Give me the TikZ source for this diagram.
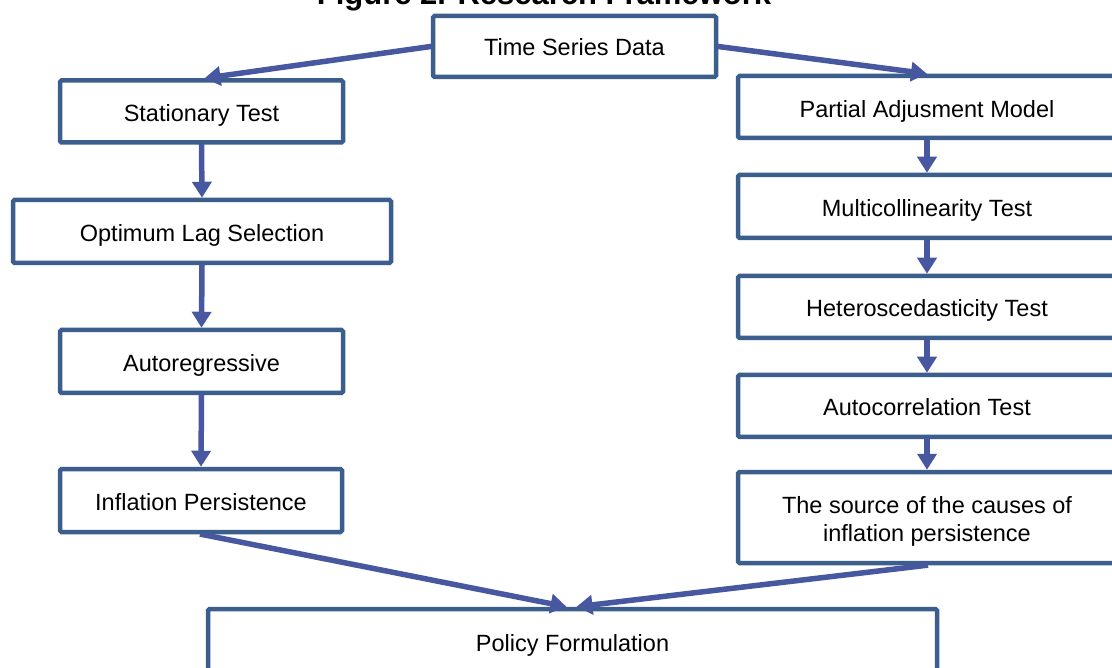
\documentclass[tikz,border=0pt]{standalone}
\usepackage{fontspec}
\setmainfont{Liberation Sans}
\usetikzlibrary{arrows.meta,calc}
\definecolor{boxblue}{HTML}{3C5E8D}
\definecolor{arrblue}{HTML}{4858A0}
\begin{document}
\begin{tikzpicture}[x=1pt,y=-1pt,
  box/.style={draw=boxblue, line width=4.5pt, rounded corners=1.5pt, fill=white,
    inner sep=0pt, font=\fontsize{23.5}{28.5}\selectfont, align=center,
    text height=20pt, text depth=0pt},
  conn/.style={draw=arrblue, line width=5.5pt, -{Triangle[length=16pt,width=19pt]}, shorten <=-1pt}
]
\clip (0,0) rectangle (1112,668);
\useasboundingbox (0,0) rectangle (1112,668);
\fill[white] (0,0) rectangle (1112,668);

\node[anchor=base, font=\bfseries\fontsize{31}{35}\selectfont] (title) at (544,4.5) {Figure 2. Research Framework};

\node[box, minimum width=283pt, minimum height=61pt, text height=18pt] (tsd) at (574.5,46.5) {Time Series Data};

\node[box, minimum width=283pt, minimum height=62pt] (st) at (201.5,111.5) {Stationary Test};
\node[box, minimum width=378pt, minimum height=63pt] (ols) at (202,231.5) {Optimum Lag Selection};
\node[box, minimum width=283pt, minimum height=63pt] (ar) at (201.5,361.5) {Autoregressive};
\node[box, minimum width=282pt, minimum height=63pt] (ip) at (201,500.5) {Inflation Persistence};

\node[box, minimum width=378pt, minimum height=62pt, text height=21.5pt] (pam) at (927,107) {Partial Adjusment Model};
\node[box, minimum width=378pt, minimum height=63pt] (mt) at (927,206.5) {Multicollinearity Test};
\node[box, minimum width=378pt, minimum height=62pt] (ht) at (927,307) {Heteroscedasticity Test};
\node[box, minimum width=378pt, minimum height=62pt] (act) at (927,406) {Autocorrelation Test};
\node[box, minimum width=378pt, minimum height=91pt, text height=48.5pt] (src) at (927,517.5) {The source of the causes of\\inflation persistence};

\node[box, minimum width=729pt, minimum height=69pt, text height=16.8pt] (pf) at (572.5,643.5) {Policy Formulation};

\draw[conn] (tsd.west) -- ($(st.north)+(3,0)$);
\draw[conn] (tsd.east) -- (pam.north);
\draw[conn] (st.south) -- (ols.north);
\draw[conn] (ols.south) -- (ar.north);
\draw[conn] (ar.south) -- (ip.north);
\draw[conn] (ip.south) -- ($(pf.north)+(-6,0)$);
\draw[conn] (pam.south) -- (mt.north);
\draw[conn] (mt.south) -- (ht.north);
\draw[conn] (ht.south) -- (act.north);
\draw[conn] (act.south) -- (src.north);
\draw[conn] (src.south) -- ($(pf.north)+(4,0)$);
\end{tikzpicture}
\end{document}
